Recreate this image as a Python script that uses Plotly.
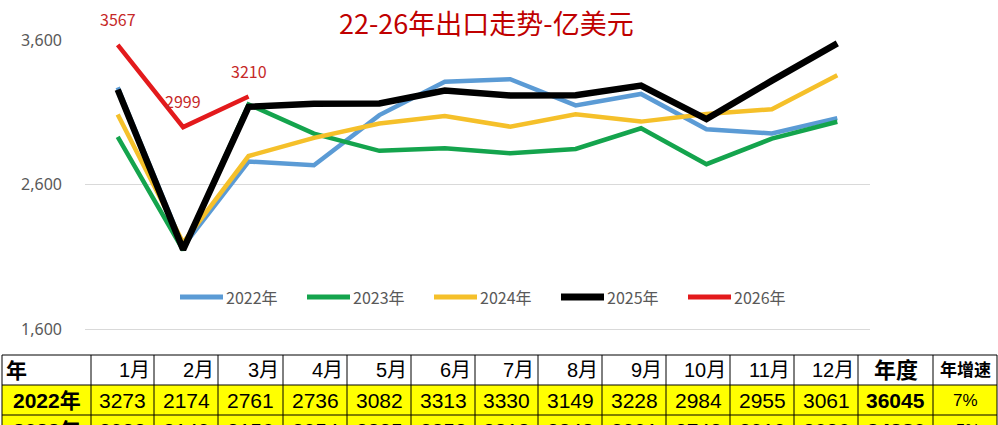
import plotly.graph_objects as go

months = ["1月", "2月", "3月", "4月", "5月", "6月", "7月", "8月", "9月", "10月", "11月", "12月"]
y2022 = [3273, 2174, 2761, 2736, 3082, 3313, 3330, 3149, 3228, 2984, 2955, 3061]
y2023 = [2932, 2149, 3156, 2954, 2835, 2853, 2818, 2848, 2991, 2743, 2919, 3036]
y2024 = [3086, 2200, 2799, 2925, 3024, 3076, 3002, 3087, 3037, 3090, 3123, 3357]
y2025 = [3258, 2153, 3139, 3160, 3163, 3252, 3218, 3220, 3286, 3054, 3320, 3578]
y2026 = [3567, 2999, 3210]

table_years = ["2022年", "2023年"]
table_rows = [y2022, y2023]
annual_totals = ["36045", "34380"]
annual_growth = ["7%", "-5%"]
header = ["年"] + months + ["年度", "年增速"]

W, H = 998, 425
PL, PR, PT, PB = 85, 870, 40, 331          # plot area in pixels
ML, MR, MT, MB = PL, W - PR, PT, H - PB
PW, PH = PR - PL, PB - PT


def px(x):
    return (x - PL) / PW


def py(y):
    return (PB - y) / PH


series = [
    ("2022年", y2022, "#5b9bd5", 4.5),
    ("2023年", y2023, "#14a44d", 4.5),
    ("2024年", y2024, "#f5c02a", 4.5),
    ("2025年", y2025, "#000000", 6.5),
    ("2026年", y2026, "#e31a1c", 4.5),
]

fig = go.Figure()
for name, vals, color, w in series:
    fig.add_trace(go.Scatter(
        x=months[:len(vals)], y=vals, mode="lines", name=name,
        line=dict(color=color, width=w), cliponaxis=False, showlegend=False,
    ))

# data labels for 2026
for m, v in zip(months, y2026):
    fig.add_annotation(x=m, y=v, xref="x", yref="y", text=str(v), showarrow=False,
                       yshift=26, font=dict(color="#c62828", size=16,
                                            family="Noto Sans CJK SC"))

# title
fig.add_annotation(x=px(486), y=py(23), xref="paper", yref="paper",
                   text="22-26年出口走势-亿美元", showarrow=False,
                   font=dict(color="#c00000", size=27, family="Noto Sans CJK SC"),
                   xanchor="center", yanchor="middle")

shapes = []

# legend (drawn manually to match swatch length/thickness)
leg_x0 = 180
leg_step = 127
leg_y = 297
for i, (name, vals, color, w) in enumerate(series):
    x0 = leg_x0 + leg_step * i
    x1 = x0 + 43
    shapes.append(dict(type="line", xref="paper", yref="paper",
                       x0=px(x0), x1=px(x1), y0=py(leg_y), y1=py(leg_y),
                       line=dict(color=color, width=w + 0.5)))
    fig.add_annotation(x=px(x1 + 1), y=py(leg_y), xref="paper", yref="paper",
                       text=name, showarrow=False, xanchor="left", yanchor="middle",
                       font=dict(size=16, color="#595959", family="Noto Sans CJK SC"))

# table
cols = [2, 91, 154, 218, 283, 347, 411, 475, 538, 602, 666, 730, 794, 858, 933, 997]
rows = [355, 385, 415, 445]
for r in range(1, 3):
    shapes.append(dict(type="rect", xref="paper", yref="paper",
                       x0=px(cols[0]), x1=px(cols[-1]), y0=py(rows[r]), y1=py(rows[r + 1]),
                       fillcolor="#ffff00", line=dict(width=0), layer="below"))
for yy in rows:
    shapes.append(dict(type="line", xref="paper", yref="paper",
                       x0=px(cols[0]), x1=px(cols[-1]), y0=py(yy), y1=py(yy),
                       line=dict(color="#000000", width=1)))
for xx in cols:
    shapes.append(dict(type="line", xref="paper", yref="paper",
                       x0=px(xx), x1=px(xx), y0=py(rows[0]), y1=py(rows[-1]),
                       line=dict(color="#000000", width=1)))

TF = "Liberation Sans, Noto Sans CJK SC"


def cell_text(ci, ri, text, size=20, bold=False, align="center", color="#000000"):
    x0, x1 = cols[ci], cols[ci + 1]
    yc = (rows[ri] + rows[ri + 1]) / 2
    if align == "center":
        x, anchor = (x0 + x1) / 2, "center"
    elif align == "right":
        x, anchor = x1 - 2, "right"
    else:
        x, anchor = x0 + 2, "left"
    t = f"<b>{text}</b>" if bold else text
    fig.add_annotation(x=px(x), y=py(yc), xref="paper", yref="paper", text=t,
                       showarrow=False, xanchor=anchor, yanchor="middle",
                       font=dict(size=size, color=color, family=TF))


for ci, h in enumerate(header):
    if ci == 0:
        cell_text(ci, 0, h, size=21, bold=True, align="left")
    elif ci <= 12:
        cell_text(ci, 0, h, size=20, align="right")
    elif ci == 13:
        cell_text(ci, 0, h, size=22, bold=True)
    else:
        cell_text(ci, 0, h, size=17, bold=True)

for ri, (yl, vals, tot, gr) in enumerate(zip(table_years, table_rows, annual_totals, annual_growth), start=1):
    cell_text(0, ri, yl, size=21, bold=True)
    for ci, v in enumerate(vals, start=1):
        cell_text(ci, ri, str(v), size=21)
    cell_text(13, ri, tot, size=21, bold=True)
    cell_text(14, ri, gr, size=17)

fig.update_layout(
    width=W, height=H,
    margin=dict(l=ML, r=MR, t=MT, b=MB, pad=0),
    plot_bgcolor="#ffffff", paper_bgcolor="#ffffff",
    shapes=shapes,
    showlegend=False,
    hovermode=False,
    xaxis=dict(showticklabels=False, showgrid=False, zeroline=False, showline=False,
               range=[-0.5, 11.5], ticks=""),
    yaxis=dict(range=[1590, 3601], tickvals=[1600, 2600, 3600], tickformat=",",
               gridcolor="#d9d9d9", gridwidth=1, zeroline=False, showline=False,
               tickfont=dict(size=16, color="#595959", family="Noto Sans"),
               ticklabelstandoff=22),
)

fig.write_html(
    "out.html",
    config={"displayModeBar": False},
    post_script="document.body.style.margin='0';"
                "document.documentElement.style.overflow='hidden';"
                "document.body.style.overflow='hidden';",
)
